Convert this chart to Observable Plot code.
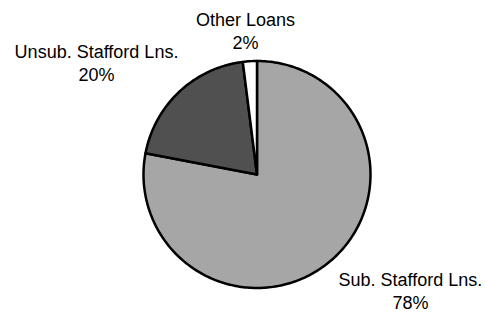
<!DOCTYPE html>
<html>
<head>
<meta charset="utf-8">
<script src="https://cdn.jsdelivr.net/npm/d3@7"></script>
<script src="https://cdn.jsdelivr.net/npm/@observablehq/plot@0.6"></script>
<style>
  html, body { margin: 0; padding: 0; background: #ffffff; }
  #chart svg { display: block; }
</style>
</head>
<body>
<div id="chart"></div>
<script>
// Data
const categories = ["Sub. Stafford Lns.", "Unsub. Stafford Lns.", "Other Loans"];
const shares = [78, 20, 2];
const sliceColors = ["#a6a6a6", "#505050", "#ffffff"];

// Build slice polygons (unit radius, clockwise from 12 o'clock)
const total = d3.sum(shares);
const pts = [];
let start = 0;
categories.forEach((c, i) => {
  const a0 = start / total * 2 * Math.PI;
  const a1 = (start + shares[i]) / total * 2 * Math.PI;
  start += shares[i];
  pts.push({cat: c, x: 0, y: 0});
  const n = Math.max(2, Math.ceil((a1 - a0) / (Math.PI / 180)));
  for (let k = 0; k <= n; k++) {
    const a = a0 + (a1 - a0) * k / n;
    pts.push({cat: c, x: Math.sin(a), y: Math.cos(a)});
  }
  pts.push({cat: c, x: 0, y: 0});
});

const labels = categories.map((c, i) => ({cat: c, text: c + "\n" + shares[i] + "%"}));
// label anchor positions in pie-radius units
const labelPos = {
  "Sub. Stafford Lns.": [1.352, -1.02],
  "Unsub. Stafford Lns.": [-1.414, 0.991],
  "Other Loans": [-0.101, 1.273]
};

const R = 113.5, cx = 256.5, cy = 174, W = 485, H = 315;

const plot = Plot.plot({
  width: W,
  height: H,
  margin: 0,
  style: {background: "#ffffff", fontFamily: "'Liberation Sans', Arial, sans-serif"},
  x: {domain: [-cx / R, (W - cx) / R], axis: null},
  y: {domain: [-(H - cy) / R, cy / R], axis: null},
  color: {domain: categories, range: sliceColors},
  marks: [
    Plot.line(pts, {
      x: "x", y: "y", z: "cat", fill: "cat",
      stroke: "#000", strokeWidth: 2.5, strokeLinejoin: "round", curve: "linear"
    }),
    Plot.text(labels, {
      x: d => labelPos[d.cat][0],
      y: d => labelPos[d.cat][1],
      text: "text",
      fontSize: 18,
      lineHeight: 1.3,
      lineAnchor: "middle",
      textAnchor: "middle",
      fill: "#000"
    })
  ]
});
document.getElementById("chart").appendChild(plot);
</script>
</body>
</html>
